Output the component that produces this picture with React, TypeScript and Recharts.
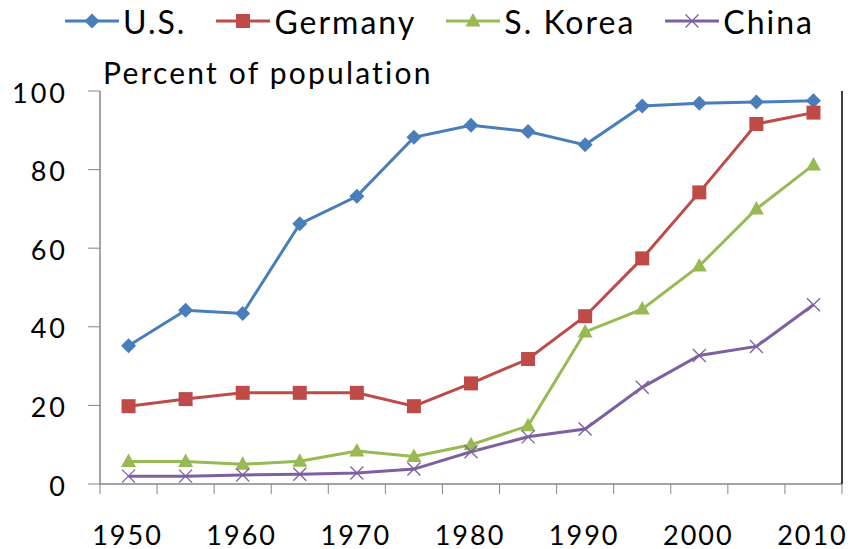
import { LineChart, Line, XAxis, YAxis, Legend } from "recharts"

const years = ["1950", "1955", "1960", "1965", "1970", "1975", "1980", "1985", "1990", "1995", "2000", "2005", "2010"]
const usValues = [35.2, 44.2, 43.4, 66.2, 73.2, 88.2, 91.3, 89.7, 86.3, 96.2, 96.9, 97.2, 97.5]
const germanyValues = [19.8, 21.6, 23.2, 23.2, 23.2, 19.8, 25.6, 31.8, 42.7, 57.4, 74.2, 91.6, 94.5]
const koreaValues = [5.7, 5.7, 5.0, 5.8, 8.4, 7.0, 10.0, 14.8, 38.7, 44.5, 55.5, 70.0, 81.2]
const chinaValues = [2.0, 2.0, 2.3, 2.5, 2.8, 3.8, 8.2, 12.0, 14.0, 24.6, 32.7, 35.0, 45.6]
const yTicks = [0, 20, 40, 60, 80, 100]

const data = years.map((year, i) => ({
  year,
  us: usValues[i],
  germany: germanyValues[i],
  korea: koreaValues[i],
  china: chinaValues[i],
}))

const FONT = "Lato, 'Open Sans', sans-serif"
const AXIS_GRAY = "#868686"

const series = [
  { key: "us", name: "U.S.", color: "#4A7EBB", marker: "diamond" },
  { key: "germany", name: "Germany", color: "#BE4B48", marker: "square" },
  { key: "korea", name: "S. Korea", color: "#98B954", marker: "triangle" },
  { key: "china", name: "China", color: "#7D60A0", marker: "cross" },
]

function Marker({ type, cx, cy, color }: { type: string; cx: number; cy: number; color: string }) {
  if (cx == null || cy == null) return null
  if (type === "diamond")
    return <polygon points={`${cx},${cy - 7.5} ${cx + 7.5},${cy} ${cx},${cy + 7.5} ${cx - 7.5},${cy}`} fill={color} />
  if (type === "square") return <rect x={cx - 7} y={cy - 7} width={14} height={14} fill={color} />
  if (type === "triangle")
    return <polygon points={`${cx},${cy - 8} ${cx + 7.5},${cy + 5.5} ${cx - 7.5},${cy + 5.5}`} fill={color} />
  return (
    <g stroke={color} strokeWidth={1.3}>
      <line x1={cx - 6.5} y1={cy - 6.5} x2={cx + 6.5} y2={cy + 6.5} />
      <line x1={cx - 6.5} y1={cy + 6.5} x2={cx + 6.5} y2={cy - 6.5} />
    </g>
  )
}

const makeDot = (type: string, color: string) => (props: any) =>
  <Marker key={`${type}-${props.index}`} type={type} cx={props.cx} cy={props.cy} color={color} />

function XTick(props: any) {
  const { x, y, payload, index } = props
  const half = payload?.offset ?? 0
  const i = payload?.index ?? index
  return (
    <g>
      <line x1={x - half} y1={y} x2={x - half} y2={y + 10} stroke={AXIS_GRAY} />
      {i === years.length - 1 && <line x1={x + half} y1={y} x2={x + half} y2={y + 10} stroke={AXIS_GRAY} />}
      {i % 2 === 0 && (
        <text
          x={x - 1}
          y={y + 50}
          textAnchor="middle"
          dominantBaseline="central"
          fontSize={27}
          letterSpacing={2}
          fontFamily={FONT}
          fill="#000"
        >
          {payload.value}
        </text>
      )}
    </g>
  )
}

function TitleLabel(props: any) {
  const vb = props.viewBox || { x: 0, y: 0, width: 0 }
  return (
    <text x={vb.x + vb.width + 3} y={vb.y - 7} fontSize={30} letterSpacing={2.2} fontFamily={FONT} fill="#000">
      Percent of population
    </text>
  )
}

function LegendContent() {
  return (
    <div style={{ display: "flex", alignItems: "center", paddingLeft: 65, height: 42, fontFamily: FONT, fontSize: 32, letterSpacing: 2 }}>
      {series.map((s) => (
        <div key={s.key} style={{ display: "flex", alignItems: "center", marginRight: 30 }}>
          <svg width={54} height={20}>
            <line x1={0} y1={10} x2={54} y2={10} stroke={s.color} strokeWidth={3} />
            <Marker type={s.marker} cx={27} cy={10} color={s.color} />
          </svg>
          <span style={{ marginLeft: 4, color: "#000" }}>{s.name}</span>
        </div>
      ))}
    </div>
  )
}

export default function App() {
  return (
    <div style={{ position: "absolute", left: 0, top: 0, width: 848, height: 549, background: "#fff" }}>
      <LineChart width={848} height={549} data={data} margin={{ top: 91, right: 5, bottom: 0, left: 0 }}>
        <XAxis
          dataKey="year"
          scale="band"
          interval={0}
          height={65}
          tickSize={0}
          tickMargin={0}
          tickLine={false}
          axisLine={{ stroke: AXIS_GRAY, strokeWidth: 1.5 }}
          tick={<XTick />}
        />
        <XAxis
          xAxisId="top"
          orientation="top"
          dataKey="year"
          scale="band"
          height={0}
          tick={false}
          tickLine={false}
          axisLine={{ stroke: "#000", strokeWidth: 1.5 }}
        />
        <YAxis
          domain={[0, 100]}
          ticks={yTicks}
          width={100}
          tickSize={12}
          tickMargin={20}
          axisLine={{ stroke: AXIS_GRAY, strokeWidth: 1.5 }}
          tickLine={{ stroke: AXIS_GRAY }}
          tick={{ fill: "#000", fontSize: 27, fontFamily: FONT, letterSpacing: 3, dy: 2 }}
          label={<TitleLabel />}
        />
        <YAxis
          yAxisId="right"
          orientation="right"
          domain={[0, 100]}
          width={1}
          tick={false}
          tickLine={false}
          axisLine={{ stroke: "#000", strokeWidth: 1.5 }}
        />
        <Legend
          verticalAlign="middle"
          layout="horizontal"
          wrapperStyle={{ top: 0, left: 0, width: 848, height: 42 }}
          content={<LegendContent />}
        />
        {series.map((s) => (
          <Line
            key={s.key}
            dataKey={s.key}
            name={s.name}
            stroke={s.color}
            strokeWidth={3}
            dot={makeDot(s.marker, s.color)}
            activeDot={false}
            isAnimationActive={false}
          />
        ))}
      </LineChart>
    </div>
  )
}
